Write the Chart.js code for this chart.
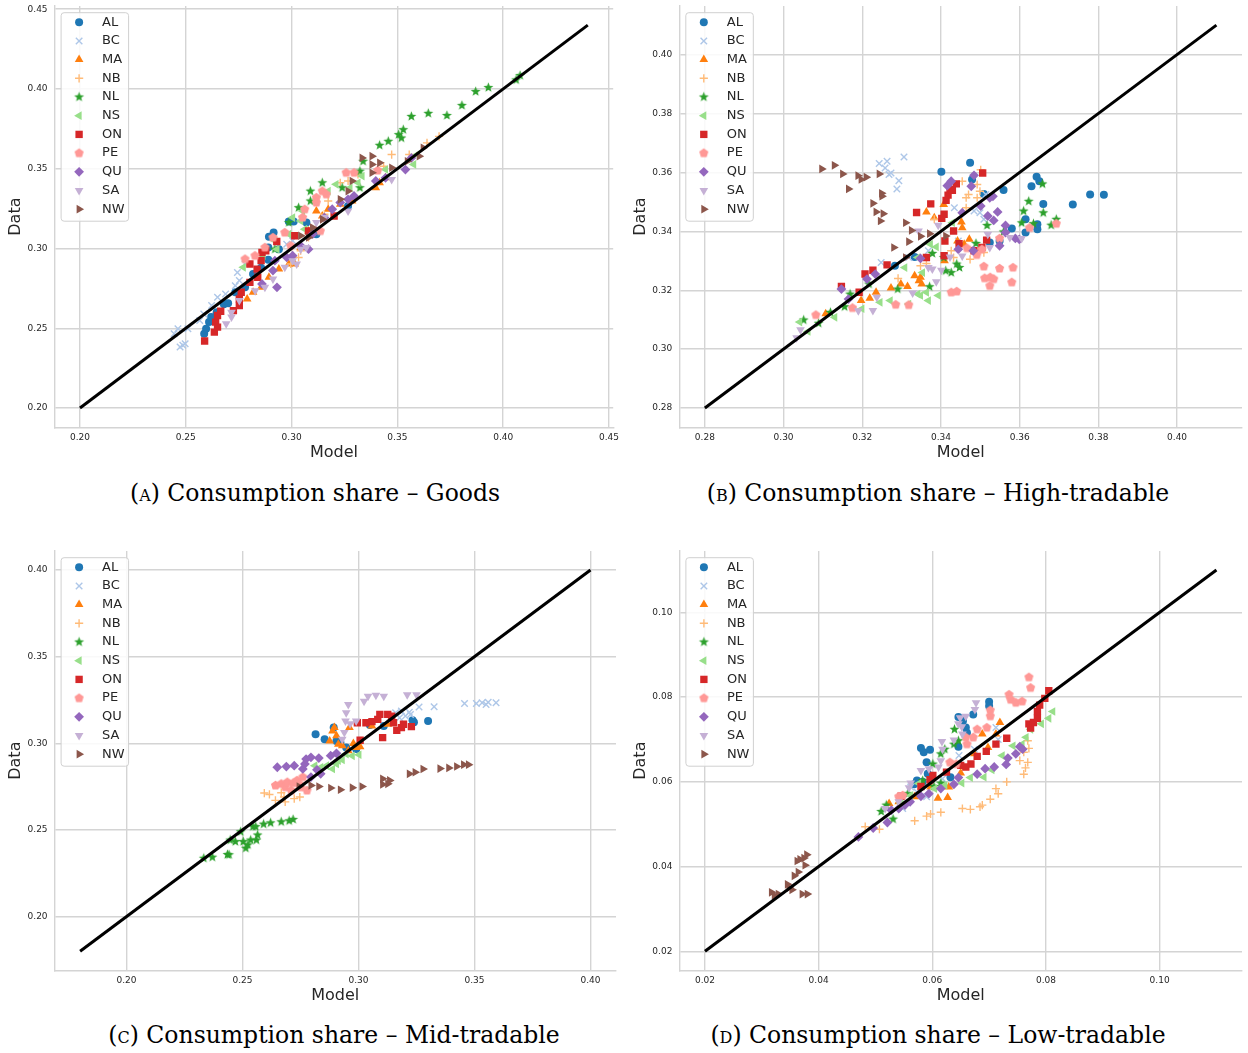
<!DOCTYPE html>
<html lang="en">
<head>
<meta charset="UTF-8">
<title>Consumption share: model vs data</title>
<style>
  body { margin: 0; background: #fff; width: 1248px; height: 1053px; position: relative; overflow: hidden; }
  canvas { position: absolute; }
  .caption { position: absolute; width: 640px; text-align: center; white-space: nowrap;
             font-family: "DejaVu Serif", serif; font-size: 23.5px; line-height: 30px; color: #000; }
  .sc { font-variant: small-caps; }
</style>
</head>
<body>
<canvas id="goods" width="622" height="470" style="left:0px;top:0px"></canvas>
<canvas id="high" width="623" height="470" style="left:625px;top:0px"></canvas>
<canvas id="mid" width="622" height="468" style="left:0px;top:545px"></canvas>
<canvas id="low" width="623" height="468" style="left:625px;top:545px"></canvas>

<div class="caption" style="left:-5px;top:478px">(<span class="sc">a</span>) Consumption share – Goods</div>
<div class="caption" style="left:618px;top:478px">(<span class="sc">b</span>) Consumption share – High-tradable</div>
<div class="caption" style="left:14px;top:1020px">(<span class="sc">c</span>) Consumption share – Mid-tradable</div>
<div class="caption" style="left:618px;top:1020px">(<span class="sc">d</span>) Consumption share – Low-tradable</div>

<script src="https://cdn.jsdelivr.net/npm/chart.js@4.4.1/dist/chart.umd.min.js"></script>
<script>
// provinces and their colours
const provinces = ['AL', 'BC', 'MA', 'NB', 'NL', 'NS', 'ON', 'PE', 'QU', 'SA', 'NW'];
const colors = ['#1f77b4', '#aec7e8', '#ff7f0e', '#ffbb78', '#2ca02c', '#98df8a',
                '#d62728', '#ff9896', '#9467bd', '#c5b0d5', '#8c564b'];

// ---- Goods: [model, data] ----
const goodsAL = [[0.2587,0.2466],[0.2596,0.2497],[0.261,0.254],[0.262,0.257],[0.2646,0.260],[0.268,0.265],[0.270,0.2657],[0.2734,0.2726],[0.278,0.2757],[0.2818,0.284],[0.2856,0.288],[0.289,0.293],[0.289,0.3007],[0.2893,0.3073],[0.2915,0.310],[0.294,0.2996],[0.2987,0.317],[0.301,0.3169],[0.307,0.3163],[0.3117,0.309],[0.3267,0.3267]];
const goodsBC = [[0.2445,0.2466],[0.2463,0.2497],[0.2473,0.2383],[0.2497,0.2403],[0.2486,0.2393],[0.251,0.2497],[0.2566,0.2549],[0.2585,0.259],[0.2622,0.2643],[0.265,0.2695],[0.2688,0.2715],[0.2734,0.2767],[0.2744,0.285],[0.2753,0.2799],[0.278,0.2903],[0.2977,0.3027],[0.3005,0.3048]];
const goodsMA = [[0.279,0.2684],[0.2818,0.2726],[0.2856,0.2757],[0.2893,0.282],[0.294,0.2871],[0.2987,0.2903],[0.3015,0.2903],[0.3043,0.3007],[0.308,0.311],[0.3117,0.3235],[0.3145,0.3204],[0.3173,0.3246],[0.323,0.3277],[0.3286,0.3298],[0.3398,0.3381],[0.3416,0.3412],[0.3444,0.3443]];
const goodsNB = [[0.2996,0.2903],[0.3033,0.2944],[0.3043,0.2986],[0.308,0.3069],[0.3117,0.3131],[0.3155,0.3215],[0.3173,0.3298],[0.323,0.3412],[0.3267,0.3423],[0.3314,0.3464],[0.3435,0.3516],[0.3473,0.3589],[0.3556,0.3589],[0.364,0.3662],[0.3697,0.3703]];
const goodsNL = [[0.2921,0.2996],[0.2987,0.3163],[0.3033,0.3256],[0.3089,0.3298],[0.3089,0.336],[0.3145,0.3412],[0.3239,0.3381],[0.3323,0.3381],[0.3323,0.3485],[0.3338,0.3547],[0.3416,0.3647],[0.3457,0.3672],[0.3506,0.3714],[0.3519,0.3693],[0.3528,0.3745],[0.3566,0.3828],[0.3646,0.3847],[0.3734,0.3834],[0.3805,0.3897],[0.387,0.3984],[0.393,0.4009],[0.4061,0.4057],[0.408,0.4084]];
const goodsNS = [[0.2772,0.2882],[0.2865,0.2955],[0.2931,0.2996],[0.2921,0.3048],[0.2987,0.309],[0.3005,0.3194],[0.3043,0.3173],[0.3052,0.3235],[0.3062,0.3121],[0.3117,0.3308],[0.3173,0.336],[0.321,0.3402],[0.3276,0.3381],[0.3314,0.3412],[0.3333,0.3454],[0.3444,0.3495],[0.3577,0.3527],[0.3594,0.3589]];
const goodsON = [[0.2589,0.242],[0.2635,0.2476],[0.2641,0.2539],[0.265,0.2507],[0.265,0.258],[0.2665,0.2607],[0.2725,0.2611],[0.2753,0.2643],[0.2762,0.2726],[0.2753,0.2684],[0.2803,0.2788],[0.2803,0.2903],[0.2837,0.2871],[0.284,0.282],[0.2856,0.2924],[0.286,0.2975],[0.2878,0.2986],[0.293,0.3044],[0.3015,0.308],[0.308,0.311],[0.3201,0.3204]];
const goodsPE = [[0.278,0.2934],[0.2827,0.2955],[0.2874,0.3007],[0.2912,0.3069],[0.2968,0.31],[0.2996,0.3017],[0.3052,0.3194],[0.3062,0.3246],[0.3117,0.3319],[0.3117,0.3288],[0.3145,0.336],[0.3164,0.334],[0.3136,0.311],[0.3258,0.3475],[0.3295,0.3475],[0.3407,0.3489]];
const goodsQU = [[0.286,0.2778],[0.2912,0.2862],[0.2931,0.2757],[0.2921,0.2924],[0.2977,0.2944],[0.3005,0.2955],[0.3043,0.3017],[0.308,0.2996],[0.3099,0.309],[0.3155,0.3194],[0.3192,0.3246],[0.323,0.3288],[0.3267,0.3308],[0.3295,0.3329],[0.3398,0.3423],[0.3444,0.3443],[0.3538,0.3495],[0.3566,0.3568]];
const goodsSA = [[0.2691,0.2528],[0.2716,0.257],[0.2716,0.2601],[0.2753,0.2674],[0.2828,0.2736],[0.2874,0.2757],[0.2912,0.2809],[0.2968,0.2882],[0.3005,0.2924],[0.3024,0.2903],[0.3043,0.2996],[0.307,0.3007],[0.3117,0.3163],[0.3155,0.3194],[0.3267,0.3235],[0.3473,0.3433]];
const goodsNW = [[0.3043,0.308],[0.308,0.3069],[0.3099,0.3131],[0.3146,0.3183],[0.323,0.3308],[0.3267,0.336],[0.3286,0.3423],[0.3333,0.3568],[0.338,0.3579],[0.338,0.3527],[0.338,0.3475],[0.3416,0.3537],[0.3473,0.3506],[0.3547,0.3547],[0.3603,0.3579],[0.3622,0.3631]];

// ---- High-tradable ----
const highAL = [[0.3401,0.3602],[0.3474,0.3633],[0.3479,0.3576],[0.3509,0.3527],[0.3559,0.354],[0.363,0.3553],[0.3643,0.3585],[0.365,0.357],[0.366,0.3493],[0.3615,0.3441],[0.3615,0.3396],[0.358,0.341],[0.3645,0.3424],[0.3645,0.3407],[0.3735,0.3491],[0.3779,0.3525],[0.3814,0.3524],[0.3524,0.3362],[0.3549,0.3367],[0.3333,0.3313],[0.3283,0.3283]];
const highBC = [[0.3243,0.363],[0.3263,0.3638],[0.3306,0.3652],[0.3258,0.3615],[0.3268,0.3593],[0.3273,0.3598],[0.3293,0.3572],[0.3288,0.3544],[0.3248,0.3294],[0.3318,0.3311],[0.3368,0.3334],[0.3444,0.3367],[0.3484,0.3469],[0.3499,0.3463],[0.3509,0.3441],[0.3514,0.3525],[0.3434,0.348]];
const highMA = [[0.3107,0.312],[0.3197,0.3165],[0.3219,0.3173],[0.3235,0.3193],[0.3273,0.3208],[0.3298,0.3221],[0.3315,0.3213],[0.3333,0.3249],[0.3344,0.3232],[0.3351,0.3221],[0.3348,0.3244],[0.3363,0.3466],[0.3383,0.3446],[0.3407,0.3491],[0.3409,0.33],[0.3442,0.3367],[0.3452,0.3432],[0.3454,0.3412],[0.3459,0.3356],[0.3472,0.3373]];
const highNB = [[0.3291,0.324],[0.3348,0.3283],[0.3363,0.3291],[0.3383,0.3441],[0.3426,0.3334],[0.3432,0.3311],[0.3454,0.357],[0.3464,0.3514],[0.347,0.3525],[0.3474,0.3305],[0.3492,0.3559],[0.3499,0.3536],[0.3492,0.3514],[0.3501,0.3609],[0.3509,0.3328],[0.3464,0.348]];
const highNL = [[0.3051,0.3099],[0.3089,0.3088],[0.3119,0.3125],[0.3155,0.3144],[0.3169,0.3187],[0.3217,0.3221],[0.329,0.3204],[0.3371,0.3212],[0.3378,0.3325],[0.3407,0.3311],[0.3412,0.3266],[0.3426,0.326],[0.344,0.3289],[0.3447,0.3277],[0.3489,0.3359],[0.3517,0.342],[0.3559,0.3398],[0.3605,0.3429],[0.361,0.3469],[0.3623,0.3502],[0.3635,0.3426],[0.3658,0.3561],[0.366,0.3463],[0.368,0.3421],[0.3693,0.3441]];
const highNS = [[0.3041,0.3092],[0.3062,0.306],[0.313,0.3108],[0.3199,0.3137],[0.3245,0.3159],[0.3271,0.3165],[0.3308,0.3277],[0.3318,0.3153],[0.3341,0.3187],[0.3348,0.3182],[0.3363,0.3193],[0.3368,0.3165],[0.3341,0.3311],[0.3373,0.3356],[0.3388,0.3347],[0.3393,0.3182],[0.3429,0.3429],[0.3353,0.326]];
const highON = [[0.3147,0.3213],[0.3192,0.3193],[0.3207,0.3255],[0.3227,0.3268],[0.3263,0.3286],[0.3338,0.3464],[0.3363,0.3311],[0.3374,0.3493],[0.3402,0.3444],[0.3408,0.3458],[0.341,0.3367],[0.3408,0.3317],[0.3413,0.3505],[0.3418,0.3523],[0.3423,0.3542],[0.3429,0.3539],[0.3439,0.3561],[0.3432,0.3401],[0.3446,0.3358],[0.3506,0.3598],[0.3504,0.3345],[0.3516,0.337],[0.3484,0.3334]];
const highPE = [[0.3082,0.3116],[0.3175,0.314],[0.3285,0.3151],[0.3318,0.315],[0.3426,0.3193],[0.344,0.3196],[0.3509,0.3281],[0.3511,0.3241],[0.3524,0.3215],[0.3525,0.3244],[0.3534,0.3238],[0.3549,0.3274],[0.3583,0.3277],[0.358,0.3227],[0.3491,0.332],[0.3549,0.3376],[0.3625,0.3412],[0.3693,0.3426],[0.3504,0.3339],[0.3466,0.3343]];
const highQU = [[0.3147,0.3204],[0.3165,0.317],[0.3212,0.3238],[0.3233,0.3255],[0.3348,0.3308],[0.3416,0.3555],[0.3426,0.357],[0.3444,0.3339],[0.3454,0.3463],[0.3477,0.3553],[0.3484,0.359],[0.3482,0.3334],[0.3501,0.3486],[0.3519,0.3452],[0.3524,0.3514],[0.3532,0.3519],[0.3534,0.3437],[0.3544,0.3466],[0.3564,0.342],[0.3564,0.3396],[0.3589,0.3376],[0.3599,0.3373],[0.3549,0.3351]];
const highSA = [[0.3033,0.3039],[0.3043,0.3066],[0.319,0.313],[0.3227,0.3131],[0.3237,0.3176],[0.3328,0.3191],[0.3343,0.3401],[0.3368,0.3277],[0.3378,0.3272],[0.3388,0.3229],[0.3393,0.3421],[0.3401,0.3268],[0.3423,0.3313],[0.3454,0.3316],[0.3519,0.339],[0.3524,0.3345],[0.3575,0.3379],[0.3605,0.3376]];
const highNW = [[0.3097,0.3612],[0.3129,0.3624],[0.315,0.3595],[0.3165,0.3544],[0.3189,0.3589],[0.3197,0.3576],[0.321,0.3584],[0.3243,0.3595],[0.3249,0.3529],[0.325,0.3519],[0.3227,0.3495],[0.3235,0.3466],[0.3253,0.346],[0.3246,0.3435],[0.328,0.3345],[0.331,0.3429],[0.3325,0.3403],[0.3318,0.3365],[0.3348,0.3383],[0.3371,0.3392],[0.3412,0.3384],[0.331,0.3311]];

// ---- Mid-tradable ----
const midAL = [[0.2815,0.3052],[0.2854,0.3024],[0.2893,0.3091],[0.2905,0.3014],[0.2922,0.3005],[0.2947,0.2976],[0.299,0.2967],[0.3049,0.3106],[0.3109,0.31],[0.3233,0.3133],[0.3239,0.3121],[0.33,0.3129]];
const midBC = [[0.3134,0.3148],[0.316,0.3176],[0.3177,0.3148],[0.3185,0.3186],[0.3202,0.3157],[0.3219,0.318],[0.3224,0.3167],[0.3261,0.3209],[0.3326,0.3211],[0.3457,0.323],[0.3508,0.323],[0.3533,0.3234],[0.355,0.3224],[0.3559,0.3237],[0.3593,0.3234]];
const midMA = [[0.2876,0.3014],[0.2888,0.3071],[0.2896,0.3091],[0.2905,0.3043],[0.2913,0.2995],[0.293,0.2986],[0.2956,0.2957],[0.2961,0.3091],[0.2978,0.2999],[0.299,0.2976],[0.3007,0.298],[0.3058,0.31],[0.3126,0.311]];
const midNB = [[0.2594,0.2713],[0.2616,0.2705],[0.2642,0.2671],[0.2667,0.2715],[0.2679,0.269],[0.2684,0.2662],[0.271,0.2738],[0.2723,0.2681],[0.2747,0.269]];
const midNL = [[0.2333,0.2337],[0.237,0.2343],[0.2435,0.2358],[0.2442,0.2357],[0.2447,0.2442],[0.2469,0.2433],[0.2492,0.249],[0.2503,0.2433],[0.2514,0.2395],[0.2523,0.2414],[0.2535,0.2442],[0.2545,0.2519],[0.2557,0.2519],[0.256,0.2442],[0.2565,0.2471],[0.2591,0.2534],[0.2621,0.2541],[0.2667,0.2547],[0.2701,0.2553],[0.2718,0.2561]];
const midNS = [[0.2812,0.2871],[0.2837,0.2862],[0.2862,0.2871],[0.2888,0.2852],[0.2905,0.2881],[0.2913,0.29],[0.293,0.2904],[0.2947,0.2938],[0.2973,0.2928],[0.3002,0.2934]];
const midON = [[0.2995,0.3119],[0.3007,0.3018],[0.3032,0.3119],[0.3058,0.3125],[0.3083,0.3138],[0.3092,0.3167],[0.3104,0.3033],[0.3126,0.3167],[0.3143,0.3157],[0.3151,0.3119],[0.3165,0.3075],[0.3185,0.3091],[0.3194,0.311],[0.3228,0.3096]];
const midPE = [[0.2642,0.2757],[0.2667,0.2766],[0.2684,0.2747],[0.2693,0.2776],[0.271,0.2728],[0.2718,0.277],[0.2735,0.2786],[0.2744,0.2766],[0.2752,0.2747],[0.276,0.2805],[0.2778,0.2728]];
const midQU = [[0.265,0.2862],[0.2689,0.2866],[0.2723,0.2871],[0.276,0.2852],[0.2769,0.2881],[0.2774,0.2909],[0.2795,0.2919],[0.2795,0.2805],[0.2829,0.2915],[0.2821,0.2847],[0.2837,0.2824],[0.288,0.2929],[0.2905,0.2942]];
const midSA = [[0.293,0.3024],[0.2939,0.3062],[0.2944,0.3129],[0.2947,0.3176],[0.2956,0.3224],[0.2964,0.3113],[0.299,0.3129],[0.3024,0.3243],[0.3041,0.3272],[0.3075,0.3278],[0.3109,0.3272],[0.321,0.3281],[0.325,0.3281]];
const midNW = [[0.2744,0.2751],[0.2795,0.2757],[0.2829,0.2751],[0.288,0.2742],[0.2922,0.2732],[0.2973,0.2744],[0.3015,0.2751],[0.3104,0.2795],[0.3104,0.2763],[0.3126,0.2766],[0.3134,0.2786],[0.3219,0.2824],[0.3244,0.2833],[0.3278,0.2852],[0.3351,0.2854],[0.3389,0.2858],[0.3423,0.2866],[0.3453,0.2877],[0.3474,0.2877]];

// ---- Low-tradable ----
const lowAL = [[0.0568,0.0594],[0.0573,0.0603],[0.0583,0.06],[0.058,0.068],[0.0585,0.067],[0.0596,0.0676],[0.059,0.0646],[0.0592,0.0619],[0.0632,0.0611],[0.0646,0.0683],[0.0646,0.0753],[0.0654,0.0744],[0.0659,0.0728],[0.0661,0.0716],[0.0672,0.0759],[0.07,0.0789],[0.07,0.0779]];
const lowBC = [[0.0541,0.0557],[0.0548,0.0537],[0.0562,0.0588],[0.0573,0.0576],[0.059,0.0565],[0.0618,0.0607],[0.0647,0.0662],[0.0674,0.0677],[0.0712,0.0728],[0.0716,0.07]];
const lowMA = [[0.0524,0.0549],[0.0541,0.0553],[0.0569,0.0565],[0.0597,0.0588],[0.061,0.0561],[0.0627,0.0563],[0.0629,0.0588],[0.065,0.0621],[0.0674,0.0666],[0.0688,0.0713],[0.0698,0.0681],[0.0712,0.0713],[0.0719,0.074]];
const lowNB = [[0.0482,0.0494],[0.0507,0.0488],[0.0569,0.0508],[0.059,0.0519],[0.0597,0.0524],[0.0615,0.0528],[0.0653,0.0537],[0.0667,0.0535],[0.0684,0.0541],[0.0688,0.0545],[0.0702,0.0559],[0.0716,0.0572],[0.0712,0.0584],[0.0731,0.06],[0.0761,0.0618],[0.0764,0.0633],[0.0768,0.0646],[0.0754,0.065],[0.0761,0.067],[0.077,0.0679],[0.0768,0.0697]];
const lowNL = [[0.051,0.053],[0.0519,0.0545],[0.0531,0.0512],[0.0557,0.0572],[0.0583,0.0603],[0.0603,0.0589],[0.0615,0.0597],[0.0601,0.0642],[0.0615,0.0666],[0.0622,0.0677],[0.0638,0.0689],[0.0639,0.0724],[0.0646,0.0697]];
const lowNS = [[0.0545,0.0549],[0.0562,0.0568],[0.0576,0.0596],[0.0604,0.0584],[0.0622,0.0592],[0.0652,0.0597],[0.0667,0.061],[0.0691,0.0611],[0.0705,0.0628],[0.0723,0.0662],[0.0742,0.0685],[0.0758,0.0689],[0.0765,0.0705],[0.0773,0.0724],[0.0792,0.0737],[0.0805,0.075],[0.0812,0.0766]];
const lowON = [[0.0545,0.0566],[0.058,0.0589],[0.0596,0.0605],[0.0601,0.0615],[0.0625,0.0623],[0.065,0.0639],[0.0659,0.0635],[0.0668,0.0642],[0.0679,0.066],[0.0695,0.0672],[0.0712,0.0689],[0.0731,0.0703],[0.077,0.0737],[0.0773,0.0727],[0.0778,0.074],[0.0785,0.075],[0.0785,0.0766],[0.0789,0.0781],[0.0798,0.0797],[0.0805,0.0815]];
const lowPE = [[0.0541,0.0565],[0.0548,0.0568],[0.0631,0.0646],[0.0642,0.0642],[0.0659,0.0705],[0.0661,0.0689],[0.0672,0.0705],[0.0679,0.0724],[0.0696,0.0728],[0.0702,0.0755],[0.0702,0.0769],[0.0735,0.0806],[0.0738,0.0794],[0.0747,0.0787],[0.0758,0.079],[0.077,0.0847],[0.0773,0.0822]];
const lowQU = [[0.047,0.047],[0.0496,0.0491],[0.0521,0.0504],[0.0528,0.0533],[0.0541,0.0537],[0.0552,0.0545],[0.0561,0.0553],[0.058,0.0566],[0.0594,0.0572],[0.0615,0.0584],[0.0638,0.0594],[0.0646,0.061],[0.0679,0.0618],[0.0693,0.0631],[0.0709,0.0635],[0.073,0.0641],[0.0733,0.0656],[0.0747,0.0666],[0.0754,0.0683],[0.0759,0.0677]];
const lowSA = [[0.0517,0.0537],[0.0541,0.0553],[0.0559,0.0586],[0.0562,0.0597],[0.058,0.0627],[0.0594,0.0631],[0.0611,0.0635],[0.0615,0.065],[0.0618,0.0677],[0.0617,0.0695],[0.0638,0.0699],[0.0646,0.0737],[0.0652,0.073],[0.0653,0.0713],[0.0649,0.0751],[0.0659,0.0755],[0.0675,0.0771],[0.0677,0.0787]];
const lowNW = [[0.0317,0.0339],[0.0322,0.0332],[0.0329,0.0335],[0.0345,0.0358],[0.0348,0.035],[0.0353,0.0345],[0.0357,0.0378],[0.0364,0.0387],[0.0362,0.0413],[0.0367,0.0417],[0.0374,0.042],[0.0376,0.0403],[0.0379,0.0428],[0.0371,0.0335],[0.038,0.0335]];

// 45-degree reference line ends and tick values per panel
const goodsLine = [0.20, 0.44];
const highLine = [0.28, 0.41];
const midLine = [0.18, 0.40];
const lowLine = [0.02, 0.11];
const goodsTicks = [0.20, 0.25, 0.30, 0.35, 0.40, 0.45];
const highTicks = [0.28, 0.30, 0.32, 0.34, 0.36, 0.38, 0.40];
const midTicks = [0.20, 0.25, 0.30, 0.35, 0.40];
const lowTicks = [0.02, 0.04, 0.06, 0.08, 0.10];

// marker style per province (matplotlib o x ^ + * < s p D v >)
function polyMarker(kind, color) {
  const c = document.createElement('canvas');
  c.width = 13; c.height = 13;
  const g = c.getContext('2d');
  g.fillStyle = color;
  g.beginPath();
  const n = kind === 'star' ? 10 : 5;
  for (let k = 0; k < n; k++) {
    const a = -Math.PI / 2 + k * 2 * Math.PI / n;
    const r = kind === 'star' ? (k % 2 ? 2.2 : 5.2) : 4.8;
    g.lineTo(6.5 + r * Math.cos(a), 6.5 + r * Math.sin(a));
  }
  g.closePath();
  g.fill();
  return c;
}
const markers = [
  { style: 'circle', r: 4, bw: 0, rot: 0 },
  { style: 'crossRot', r: 4.6, bw: 1.4, rot: 0 },
  { style: 'triangle', r: 5, bw: 0, rot: 0 },
  { style: 'cross', r: 4.1, bw: 1.4, rot: 0 },
  { style: 'star', r: 4.5, bw: 0, rot: 0 },
  { style: 'triangle', r: 5, bw: 0, rot: -90 },
  { style: 'rect', r: 5.2, bw: 0, rot: 0 },
  { style: 'pentagon', r: 4.5, bw: 0, rot: 0 },
  { style: 'rectRot', r: 4.9, bw: 0, rot: 0 },
  { style: 'triangle', r: 5, bw: 0, rot: 180 },
  { style: 'triangle', r: 5, bw: 0, rot: 90 }
];
function pointStyleFor(i) {
  const m = markers[i];
  return (m.style === 'star' || m.style === 'pentagon') ? polyMarker(m.style, colors[i]) : m.style;
}

// legend drawn inside the plot area, top-left
const insideLegend = {
  id: 'insideLegend',
  afterDatasetsDraw(chart) {
    const ctx = chart.ctx, a = chart.chartArea;
    const x0 = a.left + 6.5, y0 = a.top + 6.7, w = 67.5, h = 208.5;
    ctx.save();
    ctx.beginPath();
    ctx.roundRect(x0, y0, w, h, 3);
    ctx.fillStyle = 'rgba(255,255,255,0.85)';
    ctx.fill();
    ctx.strokeStyle = '#d0d0d0';
    ctx.lineWidth = 1;
    ctx.stroke();
    ctx.font = '13px "DejaVu Sans"';
    ctx.textBaseline = 'middle';
    provinces.forEach((p, i) => {
      const y = y0 + 9.5 + i * 18.7;
      const m = markers[i];
      ctx.fillStyle = colors[i];
      ctx.strokeStyle = colors[i];
      ctx.lineWidth = m.bw;
      Chart.helpers.drawPoint(ctx, { pointStyle: pointStyleFor(i), rotation: m.rot, radius: m.r, borderWidth: m.bw }, x0 + 18, y);
      ctx.fillStyle = '#262626';
      ctx.fillText(p, x0 + 41, y);
    });
    ctx.restore();
  }
};

const panels = [
  { id: 'goods', series: [goodsAL, goodsBC, goodsMA, goodsNB, goodsNL, goodsNS, goodsON, goodsPE, goodsQU, goodsSA, goodsNW],
    line: goodsLine, ticks: goodsTicks, canvas: [0, 0, 622, 470], area: [54.6, 4.8, 613.2, 427.2] },
  { id: 'high', series: [highAL, highBC, highMA, highNB, highNL, highNS, highON, highPE, highQU, highSA, highNW],
    line: highLine, ticks: highTicks, canvas: [625, 0, 623, 470], area: [679.3, 4.2, 1243, 427.2] },
  { id: 'mid', series: [midAL, midBC, midMA, midNB, midNL, midNS, midON, midPE, midQU, midSA, midNW],
    line: midLine, ticks: midTicks, canvas: [0, 545, 622, 468], area: [54.6, 546.7, 619.7, 970.3] },
  { id: 'low', series: [lowAL, lowBC, lowMA, lowNB, lowNL, lowNS, lowON, lowPE, lowQU, lowSA, lowNW],
    line: lowLine, ticks: lowTicks, canvas: [625, 545, 623, 468], area: [679.4, 545.8, 1242.5, 970.3] }
];

Chart.defaults.font.family = '"DejaVu Sans", sans-serif';
const gridColor = '#d4d4d4';
const textColor = '#262626';

panels.forEach(p => {
  const [cl, ct, cw, ch] = p.canvas;
  const [al, at, ar, ab] = p.area;
  // axes span the reference line with 5% margins on each side
  const span = p.line[1] - p.line[0];
  const lo = p.line[0] - 0.05 * span, hi = p.line[1] + 0.05 * span;

  const datasets = [{
    data: [{ x: p.line[0], y: p.line[0] }, { x: p.line[1], y: p.line[1] }],
    showLine: true, borderColor: '#000', borderWidth: 3, pointRadius: 0, order: 0
  }];
  p.series.forEach((pts, i) => {
    const m = markers[i];
    datasets.push({
      label: provinces[i],
      data: pts.map(d => ({ x: d[0], y: d[1] })),
      pointStyle: pointStyleFor(i),
      pointRadius: m.r,
      pointRotation: m.rot,
      pointBorderWidth: m.bw,
      pointBackgroundColor: colors[i],
      pointBorderColor: colors[i],
      order: provinces.length - i
    });
  });

  const axis = (title, isX) => ({
    type: 'linear', min: lo, max: hi,
    afterBuildTicks: s => { s.ticks = p.ticks.map(v => ({ value: v })); },
    afterFit: s => {
      if (isX) { s.height = ct + ch - ab; s.paddingLeft = 0; s.paddingRight = 0; }
      else { s.width = al - cl; s.paddingTop = 0; s.paddingBottom = 0; }
    },
    ticks: { callback: v => v.toFixed(2), font: { size: 9 }, color: textColor,
             padding: isX ? 5 : 7, autoSkip: false, maxRotation: 0 },
    grid: { color: gridColor, lineWidth: 1.4, drawTicks: false },
    border: { color: gridColor, width: 1.4 },
    title: { display: true, text: title, font: { size: 16 }, color: textColor,
             padding: isX ? { top: 0, bottom: 8 } : { top: 6, bottom: 0 } }
  });

  new Chart(document.getElementById(p.id), {
    type: 'scatter',
    data: { datasets },
    options: {
      responsive: false,
      animation: false,
      events: [],
      devicePixelRatio: 1,
      layout: { padding: { left: 0, top: at - ct, right: cl + cw - ar, bottom: 0 } },
      plugins: { legend: { display: false }, tooltip: { enabled: false } },
      scales: { x: axis('Model', true), y: axis('Data', false) }
    },
    plugins: [insideLegend]
  });
});
</script>
</body>
</html>
